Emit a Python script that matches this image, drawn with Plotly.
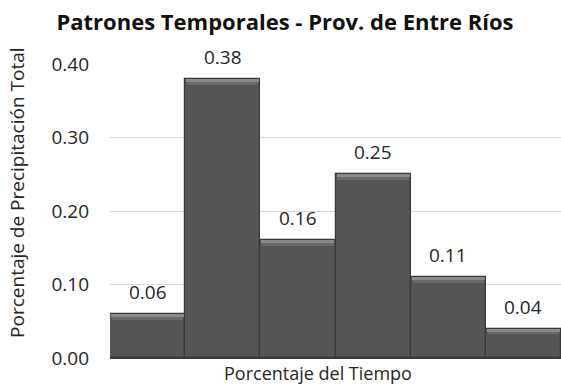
import plotly.graph_objects as go

# Distribución temporal de la precipitación (fracción del total por intervalo)
intervalos = ["T1", "T2", "T3", "T4", "T5", "T6"]
porcentaje_precip = [0.06, 0.38, 0.16, 0.25, 0.11, 0.04]
etiquetas = [f"{v:.2f}" for v in porcentaje_precip]
y_ticks = [0.0, 0.1, 0.2, 0.3, 0.4]
y_tick_text = ["0.00", "0.10", "0.20", "0.30", "0.40"]

FONT = "Open Sans"
TXT = "#262626"

# grosor del biselado superior de cada barra (unidades del eje y)
BISEL = 0.004

fig = go.Figure()
# cuerpo de las barras
fig.add_trace(go.Bar(
    x=intervalos,
    y=porcentaje_precip,
    marker=dict(color="#555555", line=dict(color="#383838", width=1.2)),
    width=1.0,
    hoverinfo="y",
))
# biselado superior (franjas más claras en el borde alto de cada barra)
fig.add_trace(go.Bar(
    x=intervalos,
    y=[BISEL] * len(porcentaje_precip),
    base=[v - BISEL for v in porcentaje_precip],
    marker=dict(color="#8a8a8a", line=dict(width=0)),
    width=0.97,
    hoverinfo="skip",
))
fig.add_trace(go.Bar(
    x=intervalos,
    y=[BISEL] * len(porcentaje_precip),
    base=[v - 2 * BISEL for v in porcentaje_precip],
    marker=dict(color="#6a6a6a", line=dict(width=0)),
    width=0.95,
    hoverinfo="skip",
))

# etiquetas de valor sobre cada barra
for cat, v, lab in zip(intervalos, porcentaje_precip, etiquetas):
    fig.add_annotation(
        x=cat, y=v, text=lab, showarrow=False,
        yshift=22, yanchor="middle",
        font=dict(family=FONT, size=19, color=TXT),
    )

# títulos de los ejes
fig.add_annotation(
    text="Porcentaje de Precipitación Total", textangle=-90,
    xref="paper", yref="paper", x=-0.205, y=0.56,
    xanchor="center", yanchor="middle", showarrow=False,
    font=dict(family=FONT, size=19, color=TXT),
)
fig.add_annotation(
    text="Porcentaje del Tiempo",
    xref="paper", yref="paper", x=0.462, y=-0.052,
    xanchor="center", yanchor="middle", showarrow=False,
    font=dict(family=FONT, size=18, color=TXT),
)

fig.update_layout(
    width=561, height=387,
    margin=dict(l=110, r=0, t=64, b=29),
    paper_bgcolor="white", plot_bgcolor="white",
    bargap=0, barmode="overlay",
    showlegend=False,
    title=dict(
        text="<b>Patrones Temporales - Prov. de Entre Ríos</b>",
        font=dict(family=FONT, size=22, color="#111111"),
        x=0.508, xanchor="center", y=0.943, yanchor="middle",
    ),
    xaxis=dict(
        type="category",
        showticklabels=False, ticks="", showgrid=False,
        showline=True, linecolor="#3a3a3a", linewidth=1,
        range=[-0.5, 5.5],
    ),
    yaxis=dict(
        range=[0, 0.4], tickvals=y_ticks, ticktext=y_tick_text,
        tickfont=dict(family=FONT, size=19, color=TXT),
        ticklabelstandoff=20,
        showgrid=True, gridcolor="#d9d9d9", gridwidth=1,
        zeroline=False, ticks="", ticklen=0,
    ),
)

fig.write_html("out.html")
